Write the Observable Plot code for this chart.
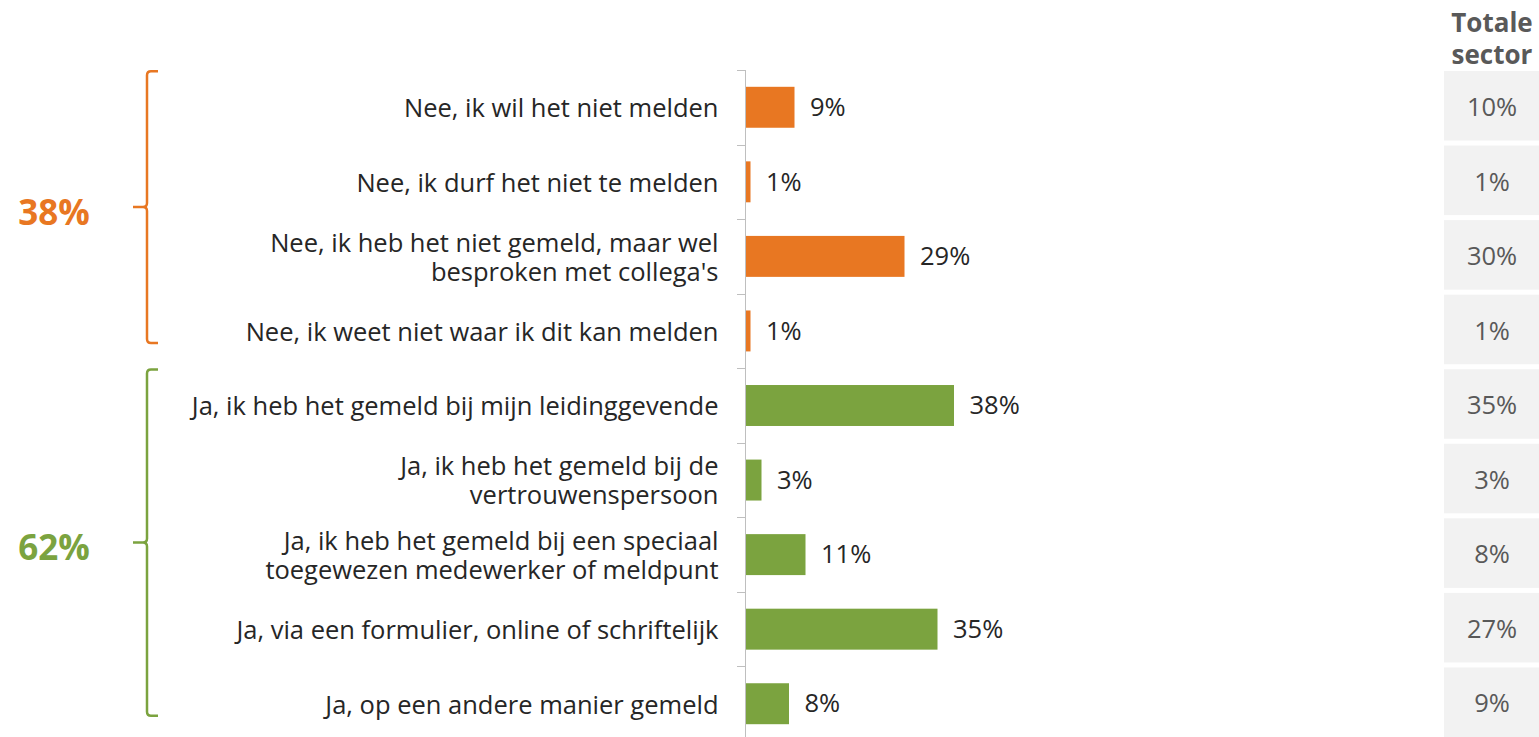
<!DOCTYPE html>
<html><head><meta charset="utf-8">
<script src="https://cdn.jsdelivr.net/npm/d3@7"></script>
<script src="https://cdn.jsdelivr.net/npm/@observablehq/plot@0.6"></script>
<style>
html,body{margin:0;padding:0;overflow:hidden;background:#fff;}
#wrap{position:relative;width:1539px;height:737px;overflow:hidden;}
#main{position:absolute;left:0;top:0;}
#totals{position:absolute;left:1444px;top:0;}
</style></head><body><div id="wrap"><div id="main"></div><div id="totals"></div></div>
<script>
const categories = [
  "Nee, ik wil het niet melden",
  "Nee, ik durf het niet te melden",
  "Nee, ik heb het niet gemeld, maar wel\nbesproken met collega's",
  "Nee, ik weet niet waar ik dit kan melden",
  "Ja, ik heb het gemeld bij mijn leidinggevende",
  "Ja, ik heb het gemeld bij de\nvertrouwenspersoon",
  "Ja, ik heb het gemeld bij een speciaal\ntoegewezen medewerker of meldpunt",
  "Ja, via een formulier, online of schriftelijk",
  "Ja, op een andere manier gemeld"
];
const values = [9, 1, 29, 1, 38, 3, 11, 35, 8];
const sectorTotals = [10, 1, 30, 1, 35, 3, 8, 27, 9];
const groupOf = ["nee", "nee", "nee", "nee", "ja", "ja", "ja", "ja", "ja"];
const groupNames = ["nee", "ja"];
const groupTotals = [38, 62];
const groupColors = {nee: "#E87722", ja: "#7BA33F"};
const headerLabel = "Totale\nsector";

const data = categories.map((c, i) => ({cat: c, value: values[i], total: sectorTotals[i], group: groupOf[i]}));
const groups = groupNames.map((g, i) => ({group: g, total: groupTotals[i], cats: categories.filter((c, j) => groupOf[j] === g)}));

const FONT = "'Open Sans', sans-serif";
const FS = 25.5;
const H = 741, TOP = 70;

function bandTicks(index, scales) {
  const g = d3.create("svg:g");
  const x0 = scales.x(0);
  for (const c of categories) {
    const yy = Math.round(scales.y(c)) + 0.5;
    g.append("line").attr("x1", x0 - 8).attr("x2", x0).attr("y1", yy).attr("y2", yy)
      .attr("stroke", "#bfbfbf").attr("stroke-width", 1);
  }
  return g.node();
}

function braces(index, scales) {
  const g = d3.create("svg:g");
  const bw = scales.y.bandwidth();
  const bx = 147, serif = 11, tick = 14, r = 4;
  for (const gr of groups) {
    const col = groupColors[gr.group];
    const first = gr.cats[0], last = gr.cats[gr.cats.length - 1];
    const top = scales.y(first) + bw / 2 - 36;
    const bot = scales.y(last) + bw / 2 + 12;
    const mid = (top + bot) / 2;
    const p = `M${bx + serif},${top} H${bx + r} Q${bx},${top} ${bx},${top + r} V${mid - r} Q${bx},${mid} ${bx - r},${mid} H${bx - tick}` +
              ` M${bx - r},${mid} Q${bx},${mid} ${bx},${mid + r} V${bot - r} Q${bx},${bot} ${bx + r},${bot} H${bx + serif}`;
    g.append("path").attr("d", p).attr("fill", "none").attr("stroke", col).attr("stroke-width", 2.5);
    g.append("text").attr("x", 54).attr("y", mid + 4).attr("text-anchor", "middle")
      .attr("dominant-baseline", "central").attr("fill", col)
      .attr("font-weight", "bold").attr("font-size", 35).attr("font-family", FONT)
      .text(gr.total + "%");
  }
  return g.node();
}

const main = Plot.plot({
  width: 1444, height: H, marginTop: TOP, marginBottom: 0, marginLeft: 745, marginRight: 0,
  style: {fontFamily: FONT, fontSize: FS + "px", color: "#262626", background: "white"},
  x: {domain: [0, 100], range: [745, 1295], axis: null},
  y: {domain: categories, padding: 0, round: false, axis: null, label: null},
  marks: [
    Plot.axisY({tickSize: 0, tickPadding: 27, lineHeight: 1.14, fill: "#262626", fontSize: FS, label: null}),
    Plot.barX(data, {x: "value", y: "cat", fill: d => groupColors[d.group], insetTop: 16.8, insetBottom: 16.8}),
    Plot.ruleX([0], {stroke: "#bfbfbf", strokeWidth: 1}),
    bandTicks,
    Plot.text(data, {x: "value", y: "cat", text: d => d.value + "%", textAnchor: "start", dx: 15, fill: "#262626", fontSize: FS}),
    braces
  ]
});
document.getElementById("main").appendChild(main);

const tot = Plot.plot({
  width: 95, height: H, marginTop: TOP, marginBottom: 0, marginLeft: 0, marginRight: 0,
  style: {fontFamily: FONT, fontSize: FS + "px", background: "transparent"},
  y: {domain: categories, padding: 0, round: false, axis: null},
  marks: [
    Plot.cell(data, {y: "cat", fill: "#f2f2f2", insetTop: 1, insetBottom: 4}),
    Plot.text(data, {y: "cat", text: d => d.total + "%", fill: "#595959", fontSize: FS}),
    Plot.text([headerLabel], {text: d => d, frameAnchor: "top", dy: -32.5, lineAnchor: "middle", lineHeight: 1.2, fontWeight: "bold", fill: "#595959", fontSize: 26})
  ]
});
document.getElementById("totals").appendChild(tot);
</script></body></html>
